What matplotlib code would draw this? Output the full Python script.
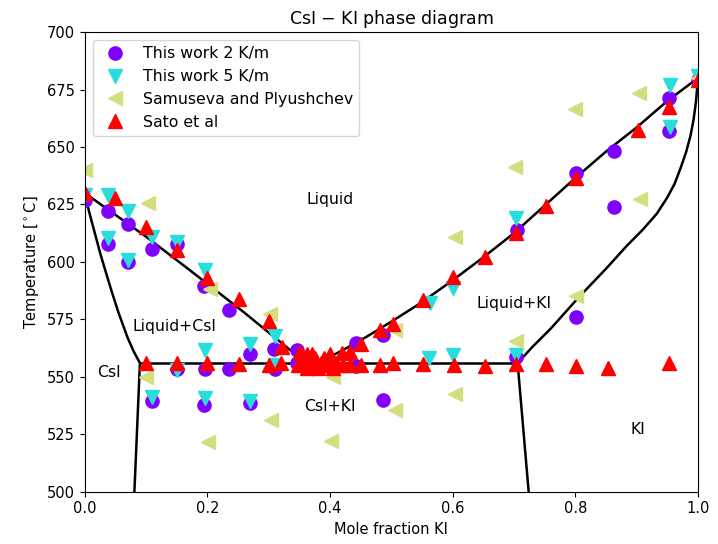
import numpy as np
import matplotlib
matplotlib.use('Agg')
import matplotlib.pyplot as plt

# phase boundaries (x = mole fraction KI, T in C)
liq_left_x = [0.0, 0.1, 0.171, 0.26, 0.345, 0.38]
liq_left_t = [630, 611, 596.5, 578, 559.5, 556]
liq_right_x = [0.38, 0.42, 0.46, 0.5, 0.55, 0.6, 0.65, 0.7, 0.75, 0.8, 0.85, 0.9, 0.95, 1.0]
liq_right_t = [556, 561.5, 567.5, 574, 582.5, 592, 602, 612.5, 624.5, 636.5, 648, 658.5, 670, 680]
sol_left_x = [0.0, 0.007, 0.015, 0.025, 0.035, 0.043, 0.055, 0.07, 0.08, 0.09, 0.081]
sol_left_t = [630, 622, 614, 604, 595, 588, 578, 567, 561, 556, 500]
eut_x = [0.09, 0.706]
eut_t = [556, 556]
sol_right_x = [0.724, 0.706, 0.73, 0.76, 0.807, 0.85, 0.884, 0.91, 0.933, 0.95, 0.962,
               0.972, 0.981, 0.988, 0.993, 0.997, 1.0]
sol_right_t = [500, 556, 563, 571, 585, 597, 607, 614, 621, 628, 634,
               641, 648, 655, 662, 670, 680]

# This work 2 K/m
w2_x = [0.0, 0.038, 0.07, 0.038, 0.11, 0.07, 0.15, 0.194, 0.235, 0.309, 0.27, 0.346, 0.346,
        0.443, 0.443, 0.487, 0.487, 0.15, 0.196, 0.235, 0.31, 0.109, 0.195, 0.27, 0.704,
        0.705, 0.802, 0.863, 0.863, 0.802, 0.953, 0.953, 1.0]
w2_t = [627, 622, 616.5, 608, 605.6, 600, 608, 589.5, 579, 562.3, 559.8, 561.7, 556,
        564.7, 554.8, 568, 539.8, 553.5, 553.3, 553.3, 553.4, 539.3, 537.8, 538.6, 558.5,
        614, 638.6, 648.4, 623.8, 576.2, 671.4, 657, 679]
# This work 5 K/m
w5_x = [0.0, 0.038, 0.07, 0.038, 0.11, 0.07, 0.15, 0.196, 0.31, 0.27, 0.196, 0.151, 0.31,
        0.109, 0.196, 0.27, 0.562, 0.6, 0.704, 0.563, 0.6, 0.704, 0.954, 0.954, 1.0]
w5_t = [629, 629, 622, 610.5, 611, 601, 608.6, 596.6, 567.7, 564.5, 561.5, 553, 555.2,
        541.3, 541, 539.3, 558, 559.4, 559.6, 582, 588.6, 619, 677, 658.6, 681]
# Samuseva and Plyushchev
sp_x = [0.0, 0.103, 0.205, 0.302, 0.1, 0.201, 0.304, 0.405, 0.402, 0.506, 0.506, 0.604,
        0.604, 0.703, 0.701, 0.802, 0.8, 0.905, 0.904, 1.0]
sp_t = [640, 625.5, 588.3, 577.5, 550.1, 521.8, 531.2, 550.1, 522, 570.5, 535.7, 542.7,
        610.7, 565.6, 641.2, 585, 666.5, 627.3, 673.6, 680]
# Sato et al
sato_x = [0.0, 0.049, 0.1, 0.15, 0.2, 0.252, 0.3, 0.322, 0.351, 0.362,
          0.1, 0.151, 0.2, 0.252, 0.3, 0.32, 0.348,
          0.355, 0.362, 0.368, 0.372, 0.376, 0.38, 0.385, 0.39, 0.395, 0.4, 0.405, 0.41, 0.37, 0.4,
          0.419, 0.432, 0.451, 0.481, 0.502, 0.552, 0.601, 0.652, 0.703, 0.752, 0.802, 0.903,
          0.953, 1.0,
          0.421, 0.432, 0.451, 0.481, 0.502, 0.552, 0.602, 0.652, 0.703, 0.752, 0.802, 0.853,
          0.953]
sato_t = [630, 627.7, 615.3, 605, 593, 584, 574.3, 563, 561, 560,
          556, 556, 556, 555.5, 555, 556, 555,
          556, 554, 557, 555, 558, 554, 556, 558, 555, 557, 554, 556, 560, 560,
          560.3, 561, 564.5, 570.4, 572.8, 583.5, 593.6, 602.3, 612.5, 624.3, 636.4, 657.2,
          667.5, 679,
          555, 555, 555, 555, 556, 555.5, 555.3, 554.8, 555.5, 555.7, 554.8, 554,
          556]

labels = ['Liquid', 'Liquid+CsI', 'CsI', 'CsI+KI', 'Liquid+KI', 'KI']
label_x = [0.4, 0.147, 0.04, 0.4, 0.70, 0.902]
label_t = [627, 572, 552, 537, 582, 527]

cols = plt.cm.rainbow(np.linspace(0, 1, 4))

fig, ax = plt.subplots(figsize=(7.18, 5.44), dpi=100)
fig.subplots_adjust(left=0.118, right=0.972, top=0.941, bottom=0.096)

for xs, ts in [(liq_left_x, liq_left_t), (liq_right_x, liq_right_t), (sol_left_x, sol_left_t),
               (eut_x, eut_t), (sol_right_x, sol_right_t)]:
    ax.plot(xs, ts, color='k', lw=1.8, zorder=1)

ms = 9.5
ax.plot(w2_x, w2_t, 'o', ls='none', color=cols[0], ms=ms, label='This work 2 K/m', zorder=2)
ax.plot(w5_x, w5_t, 'v', ls='none', color=cols[1], ms=ms, label='This work 5 K/m', zorder=2)
ax.plot(sp_x, sp_t, '<', ls='none', color=cols[2], ms=ms, label='Samuseva and Plyushchev', zorder=2)
ax.plot(sato_x, sato_t, '^', ls='none', color=cols[3], ms=ms, label='Sato et al', zorder=2)

for s, x, t in zip(labels, label_x, label_t):
    ax.text(x, t, s, ha='center', va='center', fontsize=11.3)

ax.set_xlim(0, 1)
ax.set_ylim(500, 700)
ax.tick_params(labelsize=10.5)
ax.set_xlabel('Mole fraction KI', fontsize=10.5)
ax.set_ylabel(r'Temperature [$^\circ$C]', fontsize=10.5)
ax.set_title('CsI $-$ KI phase diagram', fontsize=12.5)
ax.legend(loc='upper left', numpoints=1, fontsize=11.3)

plt.savefig('out.png', dpi=100)
